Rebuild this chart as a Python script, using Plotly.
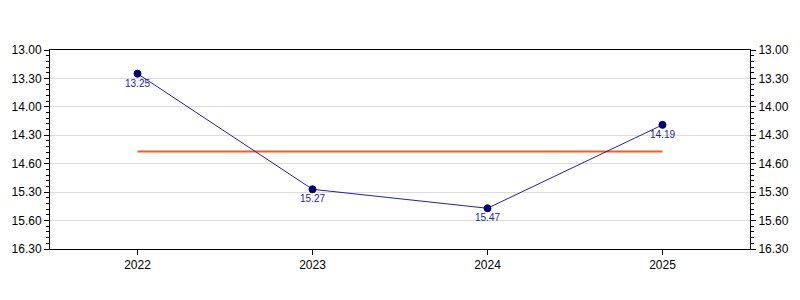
import plotly.graph_objects as go

years = ["2022", "2023", "2024", "2025"]
times = ["13.25", "15.27", "15.47", "14.19"]   # mm.ss
target = "14.47"                                  # mm.ss
tick_vals_mmss = [13.0, 13.5, 14.0, 14.5, 15.0, 15.5, 16.0, 16.5]
tick_text = ["13.00", "13.30", "14.00", "14.30", "14.60", "15.30", "15.60", "16.30"]


def to_minutes(s):
    m, sec = s.split(".")
    return int(m) + int(sec) / 60.0


yvals = [to_minutes(t) for t in times]
tval = to_minutes(target)

fig = go.Figure()
fig.add_trace(go.Scatter(
    x=years, y=[tval] * len(years), mode="lines",
    line=dict(color="#ff5a14", width=2), hoverinfo="skip", showlegend=False))
fig.add_trace(go.Scatter(
    x=years, y=yvals, mode="lines+markers+text", text=times,
    textposition="bottom center",
    textfont=dict(family="Liberation Sans, Arial", size=10, color="#1c1ca8"),
    line=dict(color="#22229e", width=1),
    marker=dict(color="#000080", size=7, line=dict(color="#000050", width=1)),
    showlegend=False))
fig.add_trace(go.Scatter(x=years, y=yvals, yaxis="y2", mode="none",
                         showlegend=False, hoverinfo="skip"))

yrange = [16.5, 13.0]
axis_font = dict(family="Liberation Sans, Arial", size=12, color="black")
common_y = dict(
    range=yrange, tickmode="array", tickvals=tick_vals_mmss, ticktext=tick_text,
    ticks="outside", ticklen=5, tickcolor="black", tickwidth=1,
    showline=True, linecolor="black", linewidth=1,
    tickfont=axis_font, zeroline=False,
    minor=dict(ticks="outside", ticklen=3, tickcolor="black", dtick=0.1,
               tick0=13, showgrid=False),
)
fig.update_layout(
    width=800, height=300,
    margin=dict(l=50, r=50, t=50, b=51),
    paper_bgcolor="white", plot_bgcolor="white",
    xaxis=dict(type="category", range=[-0.5, 3.5], showline=True, mirror=True,
               linecolor="black", linewidth=1, ticks="outside", ticklen=5,
               tickcolor="black", showgrid=False, tickfont=axis_font),
    yaxis=dict(**common_y, showgrid=True, gridcolor="#dcdcdc", gridwidth=1,
               side="left"),
    yaxis2=dict(**common_y, showgrid=False, overlaying="y", side="right"),
)

fig.write_html("out.html")
